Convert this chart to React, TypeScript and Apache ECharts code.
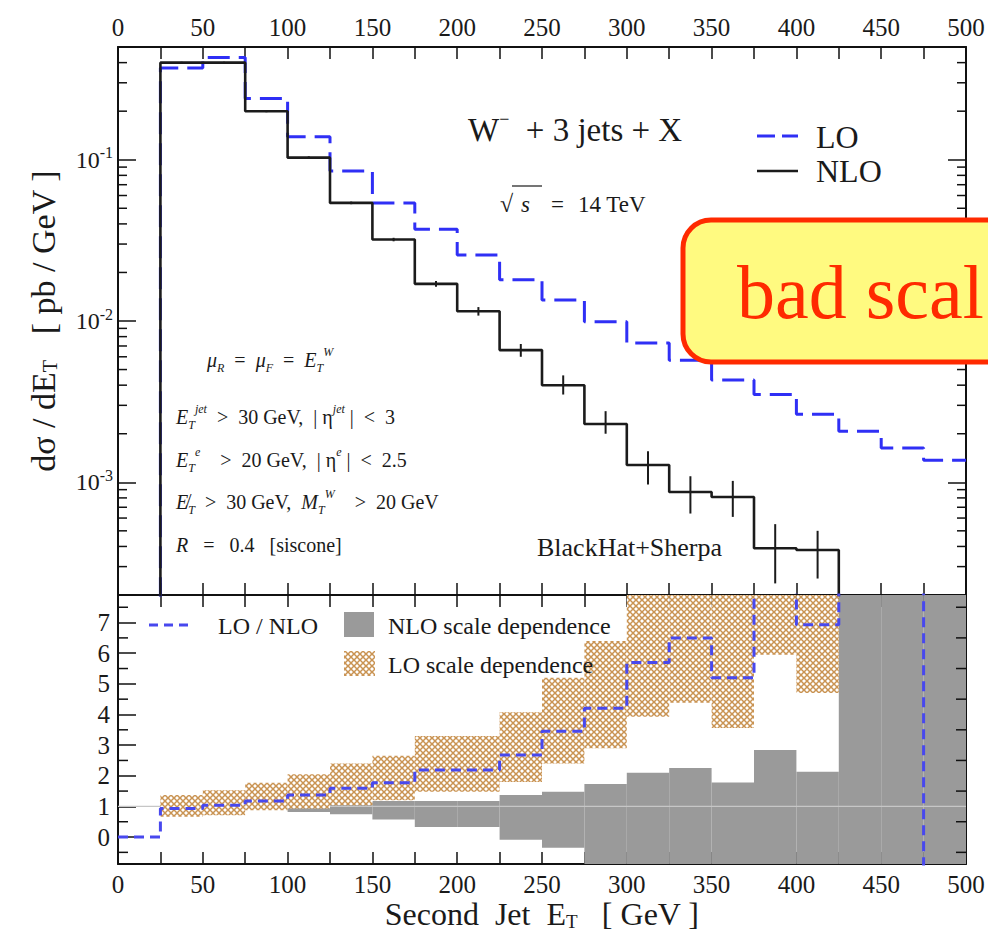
import React, { useEffect, useRef } from "react";
import * as echarts from "echarts";

// ---------- data ----------
const binEdges = [0, 25, 50, 75, 100, 125, 150, 175, 200, 225, 250, 275, 300, 325, 350, 375, 400, 425, 450, 475, 500];
const nloValues = [1e-5, 0.4, 0.4, 0.2, 0.103, 0.054, 0.032, 0.017, 0.0115, 0.0066, 0.004, 0.0023, 0.00128, 0.00087, 0.00081, 0.00039, 0.00038, 1e-5, 1e-5, 1e-5];
const loValues = [1e-5, 0.37, 0.43, 0.24, 0.139, 0.085, 0.054, 0.037, 0.0257, 0.018, 0.0135, 0.0099, 0.0073, 0.0057, 0.0043, 0.0035, 0.00264, 0.00207, 0.00163, 0.00137];
const nloErrLow = [null, 0.395, 0.395, 0.197, 0.101, 0.053, 0.0312, 0.0163, 0.0108, 0.006, 0.0035, 0.002, 0.00097, 0.00064, 0.00061, 0.000236, 0.000253, null, null, null];
const nloErrHigh = [null, 0.405, 0.405, 0.203, 0.105, 0.055, 0.0328, 0.0177, 0.0122, 0.0072, 0.0046, 0.00276, 0.00156, 0.00109, 0.00102, 0.00055, 0.0005, null, null, null];
const ratioValues = [0, 0.93, 1.04, 1.18, 1.37, 1.59, 1.77, 2.19, 2.19, 2.68, 3.45, 4.2, 5.7, 6.5, 5.2, 9.0, 6.93, 50, 50, -50];
const loBandLow = [null, 0.66, 0.71, 0.875, 0.93, 1.04, 1.2, 1.48, 1.48, 1.8, 2.4, 2.9, 3.93, 4.38, 3.56, 5.95, 4.7, null, null, null];
const loBandHigh = [null, 1.37, 1.53, 1.77, 2.05, 2.4, 2.65, 3.3, 3.3, 4.07, 5.2, 6.4, 9.5, 10.5, 8.5, 14, 10.5, null, null, null];
const nloBandLow = [null, 0.97, 0.96, 0.92, 0.82, 0.74, 0.57, 0.33, 0.33, -0.09, -0.35, -1.2, -1.5, -1.6, -1.3, -2.5, -1.8, -30, -30, -30];
const nloBandHigh = [null, 1.03, 1.04, 1.06, 1.1, 1.13, 1.18, 1.18, 1.18, 1.37, 1.48, 1.73, 2.1, 2.25, 1.78, 2.84, 2.13, 30, 30, 30];
const unityLine = [1, 1];
const logMinorTicks = [
  3e-4, 4e-4, 5e-4, 6e-4, 7e-4, 8e-4, 9e-4,
  2e-3, 3e-3, 4e-3, 5e-3, 6e-3, 7e-3, 8e-3, 9e-3,
  2e-2, 3e-2, 4e-2, 5e-2, 6e-2, 7e-2, 8e-2, 9e-2,
  2e-1, 3e-1, 4e-1,
];
const ratioMinorTicks = [-0.5, 0.5, 1.5, 2.5, 3.5, 4.5, 5.5, 6.5, 7.5];
const xMin = 0;
const xMax = 500;
const topYMin = 2e-4;
const topYMax = 0.5;
const botYMin = -0.88;
const botYMax = 7.9;

// ---------- styles ----------
const FONT = "Liberation Serif";
const INK = "#1a1a1a";
const LO_BLUE = "#2f2ff5";
const RATIO_BLUE = "#4848ee";
const GREY = "#9a9a9a";
const TAN = "#c99352";

const stepData = (vals: number[]) => [
  ...vals.map((v, i) => [binEdges[i], v]),
  [binEdges[binEdges.length - 1], vals[vals.length - 1]],
];

const bandData = (lo: (number | null)[], hi: (number | null)[]) =>
  lo
    .map((l, i) => (l == null ? null : [binEdges[i], binEdges[i + 1], l, hi[i]]))
    .filter((d) => d != null);

function makeHatch(): HTMLCanvasElement {
  const c = document.createElement("canvas");
  c.width = 6;
  c.height = 6;
  const g = c.getContext("2d")!;
  g.fillStyle = "#ffffff";
  g.fillRect(0, 0, 6, 6);
  g.strokeStyle = TAN;
  g.lineWidth = 1.5;
  g.beginPath();
  g.moveTo(-1, -1);
  g.lineTo(7, 7);
  g.moveTo(7, -1);
  g.lineTo(-1, 7);
  g.stroke();
  return c;
}

export default function App() {
  const ref = useRef<HTMLDivElement>(null);

  useEffect(() => {
    if (!ref.current) return;
    const chart = echarts.init(ref.current, null, { renderer: "svg" });
    const hatch = { image: makeHatch(), repeat: "repeat" };

    const axisLine = { show: true, onZero: false, lineStyle: { color: "#111", width: 2 } };
    const labelFont = { fontFamily: FONT, fontSize: 25, color: INK };
    const xTick = { show: true, inside: true, length: 12, lineStyle: { color: "#111", width: 1.5 } };
    const yTick = { show: true, inside: true, length: 18, lineStyle: { color: "#111", width: 1.5 } };
    const xFmt = (v: number) => (v % 50 === 0 ? String(v) : "");

    const bandRender = (fill: any) => (params: any, api: any) => {
      const p0 = api.coord([api.value(0), api.value(3)]);
      const p1 = api.coord([api.value(1), api.value(2)]);
      const cs = params.coordSys;
      const rect = echarts.graphic.clipRectByRect(
        { x: p0[0], y: p0[1], width: p1[0] - p0[0], height: p1[1] - p0[1] },
        { x: cs.x, y: cs.y, width: cs.width, height: cs.height }
      );
      if (!rect) return null;
      return { type: "rect", shape: rect, style: { fill } };
    };

    const minorTickRender = (len: number) => (params: any, api: any) => {
      const v = api.value(1);
      const pL = api.coord([xMin, v]);
      const pR = api.coord([xMax, v]);
      return {
        type: "group",
        children: [
          { type: "line", shape: { x1: pL[0], y1: pL[1], x2: pL[0] + len, y2: pL[1] }, style: { stroke: "#111", lineWidth: 1.5 } },
          { type: "line", shape: { x1: pR[0], y1: pR[1], x2: pR[0] - len, y2: pR[1] }, style: { stroke: "#111", lineWidth: 1.5 } },
        ],
      };
    };

    const errData = nloErrLow
      .map((l, i) => (l == null ? null : [(binEdges[i] + binEdges[i + 1]) / 2, l, nloErrHigh[i]]))
      .filter((d) => d != null);

    const nameRich = (size: number) => ({
      n: { fontFamily: FONT, fontSize: size, color: INK, lineHeight: 34 },
      sub: { fontFamily: FONT, fontSize: Math.round(size * 0.6), color: INK, verticalAlign: "bottom", lineHeight: 18 },
    });

    const option: any = {
      animation: false,
      backgroundColor: "#ffffff",
      textStyle: { fontFamily: FONT },
      grid: [
        { left: 118, top: 47, width: 848, height: 548, containLabel: false, outerBoundsMode: "none" },
        { left: 118, top: 595, width: 848, height: 269, containLabel: false, outerBoundsMode: "none" },
      ],
      xAxis: [
        { gridIndex: 0, type: "value", position: "bottom", min: xMin, max: xMax, interval: 25, axisLine, axisTick: xTick, axisLabel: { show: false }, splitLine: { show: false } },
        { gridIndex: 0, type: "value", position: "top", min: xMin, max: xMax, interval: 25, axisLine, axisTick: xTick, axisLabel: { show: true, margin: 7, formatter: xFmt, ...labelFont }, splitLine: { show: false } },
        {
          gridIndex: 1, type: "value", position: "bottom", min: xMin, max: xMax, interval: 25, axisLine, axisTick: xTick,
          axisLabel: { show: true, margin: 8, formatter: xFmt, ...labelFont }, splitLine: { show: false },
          name: "{n|Second  Jet  E}{sub|T}{n|   [ GeV ]}", nameLocation: "middle", nameGap: 33,
          nameTextStyle: { fontFamily: FONT, color: INK, fontSize: 32, rich: nameRich(32) },
        },
        { gridIndex: 1, type: "value", position: "top", min: xMin, max: xMax, interval: 25, axisLine, axisTick: xTick, axisLabel: { show: false }, splitLine: { show: false } },
      ],
      yAxis: [
        {
          gridIndex: 0, type: "log", logBase: 10, min: topYMin, max: topYMax, position: "left", axisLine, axisTick: yTick, splitLine: { show: false },
          axisLabel: {
            show: true, margin: 5,
            formatter: (v: number) => {
              const e = Math.log10(v);
              if (Math.abs(e - Math.round(e)) > 1e-6) return "";
              return "{b|10}{s|" + Math.round(e) + "}";
            },
            rich: {
              b: { fontFamily: FONT, fontSize: 24, color: INK, lineHeight: 30 },
              s: { fontFamily: FONT, fontSize: 16, color: INK, lineHeight: 16, verticalAlign: "top" },
            },
          },
          name: "{n|dσ / dE}{sub|T}{n|   [ pb / GeV ]}", nameLocation: "middle", nameGap: 58,
          nameTextStyle: { fontFamily: FONT, color: INK, fontSize: 34, rich: nameRich(34) },
        },
        { gridIndex: 0, type: "log", logBase: 10, min: topYMin, max: topYMax, position: "right", axisLine, axisTick: yTick, axisLabel: { show: false }, splitLine: { show: false } },
        {
          gridIndex: 1, type: "value", min: botYMin, max: botYMax, splitNumber: 8, position: "left", axisLine, axisTick: yTick, splitLine: { show: false },
          axisLabel: { show: true, margin: 8, formatter: (v: number) => (Math.abs(v - Math.round(v)) < 1e-6 ? String(Math.round(v)) : ""), ...labelFont },
        },
        { gridIndex: 1, type: "value", min: botYMin, max: botYMax, splitNumber: 8, position: "right", axisLine, axisTick: yTick, axisLabel: { show: false }, splitLine: { show: false } },
      ],
      series: [
        // ---- top panel ----
        {
          name: "LO", type: "line", xAxisIndex: 0, yAxisIndex: 0, step: "end", data: stepData(loValues), showSymbol: false, symbol: "none",
          lineStyle: { color: LO_BLUE, width: 3, type: [22, 9] }, z: 3, silent: true, clip: true,
        },
        {
          name: "NLO", type: "line", xAxisIndex: 0, yAxisIndex: 0, step: "end", data: stepData(nloValues), showSymbol: false, symbol: "none",
          lineStyle: { color: "#1b1b1b", width: 2.6 }, z: 4, silent: true, clip: true,
        },
        {
          name: "NLO err", type: "custom", xAxisIndex: 0, yAxisIndex: 0, data: errData, encode: { x: 0, y: [1, 2] }, z: 5, silent: true,
          renderItem: (params: any, api: any) => {
            const a = api.coord([api.value(0), api.value(1)]);
            const b = api.coord([api.value(0), api.value(2)]);
            return { type: "line", shape: { x1: a[0], y1: a[1], x2: b[0], y2: b[1] }, style: { stroke: "#1b1b1b", lineWidth: 2 } };
          },
        },
        {
          name: "log minor ticks", type: "custom", xAxisIndex: 0, yAxisIndex: 0, data: logMinorTicks.map((v) => [xMin, v]), encode: { x: 0, y: 1 }, z: 6, silent: true,
          renderItem: minorTickRender(9),
        },
        // ---- bottom panel ----
        {
          name: "NLO scale dependence", type: "custom", xAxisIndex: 2, yAxisIndex: 2, data: bandData(nloBandLow, nloBandHigh), encode: { x: [0, 1], y: [2, 3] }, z: 2, silent: true,
          renderItem: bandRender(GREY),
        },
        {
          name: "unity", type: "line", xAxisIndex: 2, yAxisIndex: 2, data: [[xMin, unityLine[0]], [xMax, unityLine[1]]], showSymbol: false, symbol: "none",
          lineStyle: { color: "#c6c6c6", width: 1.2 }, z: 3, silent: true,
        },
        {
          name: "LO scale dependence", type: "custom", xAxisIndex: 2, yAxisIndex: 2, data: bandData(loBandLow, loBandHigh), encode: { x: [0, 1], y: [2, 3] }, z: 4, silent: true,
          renderItem: bandRender(hatch),
        },
        {
          name: "LO / NLO", type: "line", xAxisIndex: 2, yAxisIndex: 2, step: "end", data: stepData(ratioValues), showSymbol: false, symbol: "none",
          lineStyle: { color: RATIO_BLUE, width: 3, type: [10, 6] }, z: 5, silent: true, clip: true,
        },
        {
          name: "ratio minor ticks", type: "custom", xAxisIndex: 2, yAxisIndex: 2, data: ratioMinorTicks.map((v) => [xMin, v]), encode: { x: 0, y: 1 }, z: 6, silent: true,
          renderItem: minorTickRender(10),
        },
      ],
      graphic: [
        // top panel title & legend
        {
          type: "text", x: 468, y: 130, z: 50,
          style: {
            text: "{t|W}{sup|−}{t|  + 3 jets + X}", verticalAlign: "middle", fill: INK,
            rich: { t: { fontFamily: FONT, fontSize: 33, fill: INK, lineHeight: 40 }, sup: { fontFamily: FONT, fontSize: 18, fill: INK, lineHeight: 18, verticalAlign: "top" } },
          },
        },
        { type: "line", z: 50, shape: { x1: 757, y1: 136, x2: 798, y2: 136 }, style: { stroke: LO_BLUE, lineWidth: 3, lineDash: [18, 7] } },
        { type: "text", x: 816, y: 137, z: 50, style: { text: "LO", fontFamily: FONT, fontSize: 32, fill: INK, verticalAlign: "middle" } },
        { type: "line", z: 50, shape: { x1: 757, y1: 171, x2: 798, y2: 171 }, style: { stroke: "#1b1b1b", lineWidth: 2.6 } },
        { type: "text", x: 816, y: 171, z: 50, style: { text: "NLO", fontFamily: FONT, fontSize: 32, fill: INK, verticalAlign: "middle" } },
        // sqrt(s)
        { type: "text", x: 500, y: 204, z: 50, style: { text: "√", fontFamily: FONT, fontSize: 24, fill: INK, verticalAlign: "middle" } },
        { type: "line", z: 50, shape: { x1: 512, y1: 186, x2: 542, y2: 186 }, style: { stroke: INK, lineWidth: 1.2 } },
        { type: "text", x: 521, y: 204, z: 50, style: { text: "s", fontFamily: FONT, fontStyle: "italic", fontSize: 23, fill: INK, verticalAlign: "middle" } },
        { type: "text", x: 551, y: 204, z: 50, style: { text: "=", fontFamily: FONT, fontSize: 23, fill: INK, verticalAlign: "middle" } },
        { type: "text", x: 578, y: 204, z: 50, style: { text: "14 TeV", fontFamily: FONT, fontSize: 23, fill: INK, verticalAlign: "middle" } },
        // cuts
        ...[
          { x: 207, y: 360, text: "{i|μ}{sub|R}{t|  =  }{i|μ}{sub|F}{t|  =  }{i|E}{sub|T}{sup|W}" },
          { x: 176, y: 417, text: "{i|E}{sub|T}{sup|jet}{t|  >  30 GeV,  | η}{sup|jet}{t| |  <  3}" },
          { x: 176, y: 460, text: "{i|E}{sub|T}{sup|e}{t|    >  20 GeV,  | η}{sup|e}{t| |  <  2.5}" },
          { x: 176, y: 502, text: "{i|E\u0338}{sub|T}{t|  >  30 GeV,  }{i|M}{sub|T}{sup|W}{t|    >  20 GeV}" },
          { x: 176, y: 545, text: "{i|R}{t|   =   0.4   [siscone]}" },
        ].map((c) => ({
          type: "text", x: c.x, y: c.y, z: 50,
          style: {
            text: c.text, verticalAlign: "middle", fill: INK,
            rich: {
              t: { fontFamily: FONT, fontSize: 20, fill: INK, lineHeight: 28 },
              i: { fontFamily: FONT, fontStyle: "italic", fontSize: 20, fill: INK, lineHeight: 28 },
              sub: { fontFamily: FONT, fontStyle: "italic", fontSize: 12, fill: INK, lineHeight: 12, verticalAlign: "bottom" },
              sup: { fontFamily: FONT, fontStyle: "italic", fontSize: 12, fill: INK, lineHeight: 12, verticalAlign: "top" },
            },
          },
        })),
        { type: "text", x: 537, y: 547, z: 50, style: { text: "BlackHat+Sherpa", fontFamily: FONT, fontSize: 26, fill: INK, verticalAlign: "middle" } },
        // bottom legend
        { type: "line", z: 50, shape: { x1: 149, y1: 625, x2: 190, y2: 625 }, style: { stroke: RATIO_BLUE, lineWidth: 3, lineDash: [9, 6] } },
        { type: "text", x: 218, y: 626, z: 50, style: { text: "LO / NLO", fontFamily: FONT, fontSize: 24, fill: INK, verticalAlign: "middle" } },
        { type: "rect", z: 50, shape: { x: 344, y: 612, width: 30, height: 25 }, style: { fill: GREY } },
        { type: "text", x: 388, y: 626, z: 50, style: { text: "NLO scale dependence", fontFamily: FONT, fontSize: 24, fill: INK, verticalAlign: "middle" } },
        { type: "rect", z: 50, shape: { x: 344, y: 651, width: 31, height: 25 }, style: { fill: hatch } },
        { type: "text", x: 388, y: 665, z: 50, style: { text: "LO scale dependence", fontFamily: FONT, fontSize: 24, fill: INK, verticalAlign: "middle" } },
        // overlay callout (cut at the page edge in the reference)
        { type: "rect", z: 100, shape: { x: 683, y: 220, width: 360, height: 142, r: 28 }, style: { fill: "#fffa80", stroke: "#ff2a00", lineWidth: 5 } },
        { type: "text", x: 737, y: 292, z: 101, style: { text: "bad scal", fontFamily: FONT, fontSize: 76, fill: "#ff2a00", verticalAlign: "middle" } },
      ],
    };

    chart.setOption(option);
    return () => chart.dispose();
  }, []);

  return <div ref={ref} style={{ position: "absolute", left: 0, top: 0, width: 988, height: 935 }} />;
}
